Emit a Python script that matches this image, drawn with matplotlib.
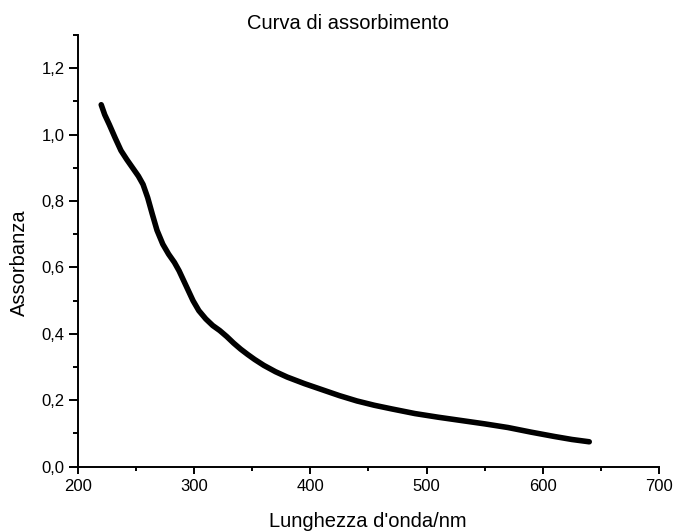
import matplotlib
matplotlib.use("Agg")
import matplotlib.pyplot as plt
from matplotlib.ticker import MultipleLocator, FuncFormatter

# curva
lunghezza = [220, 223, 227, 232, 237, 242, 247, 252, 256, 260, 264, 268, 273,
             278, 283, 287, 291, 295, 299, 304, 310, 316, 322, 328, 334, 340,
             346, 352, 360, 370, 380, 395, 410, 425, 440, 455, 470, 490, 510,
             530, 550, 570, 590, 610, 625, 640]
assorbanza = [1.090, 1.060, 1.030, 0.990, 0.952, 0.925, 0.900, 0.875, 0.850,
              0.810, 0.760, 0.712, 0.670, 0.640, 0.615, 0.590, 0.560, 0.530,
              0.500, 0.470, 0.445, 0.425, 0.410, 0.392, 0.372, 0.354, 0.338,
              0.323, 0.305, 0.286, 0.270, 0.250, 0.232, 0.214, 0.198, 0.185,
              0.174, 0.160, 0.149, 0.139, 0.129, 0.118, 0.104, 0.091, 0.082,
              0.075]

plt.rcParams["font.family"] = ["Liberation Sans", "DejaVu Sans"]

fig = plt.figure(figsize=(6.74, 5.31), dpi=100)
ax = fig.add_axes([0.1157, 0.1211, 0.862, 0.813])

ax.plot(lunghezza, assorbanza, color="black", linewidth=4,
        solid_capstyle="round", solid_joinstyle="round")

ax.set_xlim(200, 700)
ax.set_ylim(0, 1.3)
ax.xaxis.set_major_locator(MultipleLocator(100))
ax.xaxis.set_minor_locator(MultipleLocator(50))
ax.yaxis.set_major_locator(MultipleLocator(0.2))
ax.yaxis.set_minor_locator(MultipleLocator(0.1))
ax.yaxis.set_major_formatter(FuncFormatter(lambda v, _: f"{v:.1f}".replace(".", ",")))

for s in ["top", "right"]:
    ax.spines[s].set_visible(False)
for s in ["left", "bottom"]:
    ax.spines[s].set_linewidth(1.4)

ax.tick_params(which="both", direction="out", width=1.4, labelsize=12)
ax.tick_params(axis="x", which="major", length=5, pad=4)
ax.tick_params(axis="x", which="minor", length=3)
ax.tick_params(axis="y", which="major", length=6.5, pad=3)
ax.tick_params(axis="y", which="minor", length=3.4)

# etichette posizionate come nell'originale (non centrate sugli assi)
ax.text(0.498, -0.1397, "Lunghezza d'onda/nm", transform=ax.transAxes,
        fontsize=14.5, ha="center", va="baseline")
ax.text(-0.0912, 0.473, "Assorbanza", transform=ax.transAxes, fontsize=14.5,
        rotation=90, rotation_mode="anchor", ha="center", va="baseline")
fig.text(0.5156, 1 - 29 / 531, "Curva di assorbimento", fontsize=14.5,
         ha="center", va="baseline")

fig.savefig("out.png", dpi=100)
